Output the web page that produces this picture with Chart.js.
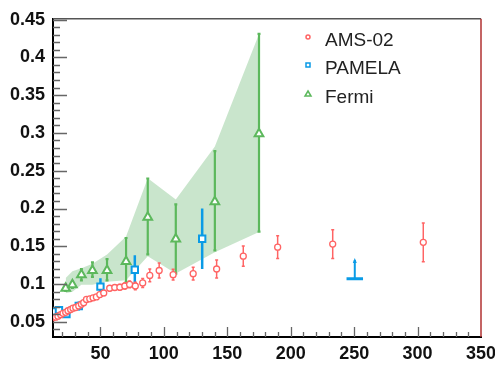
<!DOCTYPE html>
<html>
<head>
<meta charset="utf-8">
<script src="https://cdn.jsdelivr.net/npm/chart.js@4.4.1/dist/chart.umd.min.js"></script>
<style>
  html, body { margin: 0; padding: 0; background: #fff; }
</style>
</head>
<body>
<canvas id="fracchart" width="495" height="369"></canvas>
<script>
// AMS-02 positron fraction (energy in GeV, value, half error)
var amsEnergy   = [12.6, 14.7, 16.5, 18.7, 20.5, 22.6, 24.4, 26.5, 28.4, 30.5, 32.9, 35.0, 36.8, 39.0, 41.6, 44.2, 46.8, 49.5, 52.6, 57.3, 61.3, 65.3, 69.2, 73.0, 77.5, 83.3, 88.9, 96.3, 107.3, 123.1, 141.6, 162.6, 189.7, 233.1, 304.5];
var amsFraction = [0.0554, 0.0562, 0.0575, 0.0596, 0.0613, 0.0626, 0.0647, 0.0664, 0.0682, 0.0690, 0.0711, 0.0733, 0.0754, 0.0797, 0.0805, 0.0818, 0.0830, 0.0861, 0.0882, 0.0945, 0.0955, 0.0958, 0.0975, 0.0995, 0.0975, 0.1015, 0.1115, 0.1180, 0.1125, 0.1138, 0.1200, 0.1370, 0.1488, 0.1530, 0.1552];
var amsError    = [0.0010, 0.0010, 0.0011, 0.0012, 0.0012, 0.0013, 0.0014, 0.0015, 0.0016, 0.0017, 0.0018, 0.0019, 0.0020, 0.0021, 0.0022, 0.0023, 0.0025, 0.0027, 0.0029, 0.0032, 0.0034, 0.0036, 0.0040, 0.0045, 0.0050, 0.0060, 0.0085, 0.0098, 0.0072, 0.0085, 0.0120, 0.0135, 0.0150, 0.0190, 0.0255];

// PAMELA
var pamelaEnergy   = [14.0, 17.3, 23.2, 32.9, 50.0, 77.1, 130.2];
var pamelaFraction = [0.0638, 0.0656, 0.0605, 0.0710, 0.0967, 0.1190, 0.1600];
var pamelaError    = [0.0030, 0.0030, 0.0030, 0.0060, 0.0110, 0.0190, 0.0400];
var pamelaLimitEnergy   = [244, 257];
var pamelaLimitFraction = [0.107, 0.132];

// Fermi
var fermiEnergy   = [22.6, 27.9, 35.0, 43.7, 55.2, 70.2, 87.3, 109.4, 140.2, 175.0];
var fermiFraction = [0.0946, 0.0990, 0.1125, 0.1180, 0.1180, 0.1300, 0.1885, 0.1595, 0.2090, 0.2990];
var fermiLow      = [0.0910, 0.0950, 0.1050, 0.1095, 0.1050, 0.1030, 0.1394, 0.1138, 0.1445, 0.1693];
var fermiHigh     = [0.0980, 0.1030, 0.1200, 0.1288, 0.1330, 0.1610, 0.2397, 0.2056, 0.2760, 0.4310];
var fermiBandLow  = [0.0880, 0.0900, 0.0990, 0.0990, 0.1030, 0.1050, 0.1370, 0.1140, 0.1420, 0.1690];
var fermiBandHigh = [0.1080, 0.1170, 0.1210, 0.1270, 0.1390, 0.1630, 0.2400, 0.2120, 0.2820, 0.4310];

var xTicks = [50, 100, 150, 200, 250, 300, 350];
var yTicks = [0.05, 0.1, 0.15, 0.2, 0.25, 0.3, 0.35, 0.4, 0.45];

var amsColor = "#ff6464";
var pamelaColor = "#0a9be6";
var fermiColor = "#5cb85c";

function points(xs, ys) {
  var out = [];
  for (var i = 0; i < xs.length; i++) out.push({ x: xs[i], y: ys[i] });
  return out;
}

// error bars, drawn just before the markers of each dataset
var errorBars = {
  id: "errorBars",
  beforeDatasetDraw: function (chart, args) {
    var ds = chart.data.datasets[args.index];
    if (!ds.errLow) return;
    var ctx = chart.ctx, xs = chart.scales.x, ys = chart.scales.y, area = chart.chartArea;
    ctx.save();
    ctx.beginPath();
    ctx.rect(area.left, area.top, area.right - area.left, area.bottom - area.top);
    ctx.clip();
    ctx.strokeStyle = ds.borderColor;
    ctx.lineWidth = ds.errWidth;
    for (var i = 0; i < ds.data.length; i++) {
      var px = xs.getPixelForValue(ds.data[i].x);
      var lo = ys.getPixelForValue(ds.errLow[i]);
      var hi = ys.getPixelForValue(ds.errHigh[i]);
      ctx.beginPath();
      ctx.moveTo(px, lo); ctx.lineTo(px, hi);
      if (ds.capWidth) {
        ctx.moveTo(px - ds.capWidth, lo); ctx.lineTo(px + ds.capWidth, lo);
        ctx.moveTo(px - ds.capWidth, hi); ctx.lineTo(px + ds.capWidth, hi);
      }
      ctx.stroke();
    }
    if (ds.limitX) {
      var x0 = xs.getPixelForValue(ds.limitX[0]);
      var x1 = xs.getPixelForValue(ds.limitX[1]);
      var xm = xs.getPixelForValue((ds.limitX[0] + ds.limitX[1]) / 2);
      var yb = ys.getPixelForValue(ds.limitY[0]);
      var yt = ys.getPixelForValue(ds.limitY[1]);
      ctx.lineWidth = 3;
      ctx.beginPath(); ctx.moveTo(x0, yb); ctx.lineTo(x1, yb); ctx.stroke();
      ctx.lineWidth = 2;
      ctx.beginPath(); ctx.moveTo(xm, yb); ctx.lineTo(xm, yt); ctx.stroke();
      ctx.fillStyle = ds.borderColor;
      ctx.beginPath(); ctx.moveTo(xm, yt - 2); ctx.lineTo(xm - 2, yt + 3); ctx.lineTo(xm + 2, yt + 3); ctx.fill();
    }
    ctx.restore();
  }
};

// inner tick marks, frame and legend
var frameAndLegend = {
  id: "frameAndLegend",
  afterDraw: function (chart) {
    var ctx = chart.ctx, xs = chart.scales.x, ys = chart.scales.y, a = chart.chartArea;
    ctx.save();
    ctx.strokeStyle = "#666";
    ctx.lineWidth = 1.3;
    ctx.beginPath();
    for (var k = 4; k <= 45; k++) {
      var py = Math.round(ys.getPixelForValue(k / 100)) + 0.5;
      var len = (k % 5 === 0) ? 14 : 7;
      ctx.moveTo(a.left, py); ctx.lineTo(a.left + len, py);
    }
    for (var j = 2; j <= 34; j++) {
      var px = Math.round(xs.getPixelForValue(j * 10)) + 0.5;
      var l2 = (j % 5 === 0) ? 10 : 5;
      ctx.moveTo(px, a.bottom); ctx.lineTo(px, a.bottom - l2);
    }
    ctx.stroke();

    // top and right frame
    ctx.strokeStyle = "#555";
    ctx.lineWidth = 1.5;
    ctx.beginPath(); ctx.moveTo(a.left, a.top); ctx.lineTo(a.right, a.top); ctx.stroke();
    ctx.strokeStyle = "#b03030";
    ctx.beginPath(); ctx.moveTo(a.right, a.top); ctx.lineTo(a.right, a.bottom); ctx.stroke();

    // legend
    var rows = [
      { ds: 2, y: 37 },
      { ds: 3, y: 65 },
      { ds: 4, y: 94 }
    ];
    var mx = a.right - 173, tx = a.right - 156;
    ctx.font = '19px "Liberation Sans", Arial, sans-serif';
    ctx.textBaseline = "alphabetic";
    ctx.textAlign = "left";
    rows.forEach(function (r) {
      var ds = chart.data.datasets[r.ds];
      ctx.strokeStyle = ds.borderColor;
      ctx.fillStyle = "#fff";
      ctx.lineWidth = 1.5;
      ctx.beginPath();
      if (ds.pointStyle === "circle") {
        ctx.arc(mx, r.y, 2, 0, Math.PI * 2);
      } else if (ds.pointStyle === "rect") {
        ctx.rect(mx - 2, r.y - 2, 4, 4);
      } else {
        ctx.moveTo(mx, r.y - 3); ctx.lineTo(mx + 3, r.y + 2); ctx.lineTo(mx - 3, r.y + 2); ctx.closePath();
      }
      ctx.fill(); ctx.stroke();
      ctx.fillStyle = "#222";
      ctx.fillText(ds.label, tx, r.y + 8.5);
    });
    ctx.restore();
  }
};

var ctx = document.getElementById("fracchart").getContext("2d");
var FracChart = new Chart(ctx, {
  type: "scatter",
  data: {
    datasets: [
      {
        type: "line",
        label: "band low",
        data: points(fermiEnergy, fermiBandLow),
        borderColor: "rgba(0,0,0,0)",
        pointRadius: 0,
        fill: false,
        tension: 0,
        order: 10
      },
      {
        type: "line",
        label: "band high",
        data: points(fermiEnergy, fermiBandHigh),
        borderColor: "rgba(0,0,0,0)",
        backgroundColor: "rgba(90,175,100,0.33)",
        pointRadius: 0,
        fill: "-1",
        tension: 0,
        order: 10
      },
      {
        label: "AMS-02",
        data: points(amsEnergy, amsFraction),
        errLow: amsFraction.map(function (v, i) { return v - amsError[i]; }),
        errHigh: amsFraction.map(function (v, i) { return v + amsError[i]; }),
        errWidth: 1.5,
        capWidth: 1.5,
        pointStyle: "circle",
        pointRadius: 3,
        borderWidth: 1.3,
        borderColor: amsColor,
        backgroundColor: "#fff",
        order: 1
      },
      {
        label: "PAMELA",
        data: points(pamelaEnergy, pamelaFraction),
        errLow: pamelaFraction.map(function (v, i) { return v - pamelaError[i]; }),
        errHigh: pamelaFraction.map(function (v, i) { return v + pamelaError[i]; }),
        errWidth: 2.5,
        capWidth: 0,
        limitX: pamelaLimitEnergy,
        limitY: pamelaLimitFraction,
        pointStyle: "rect",
        pointRadius: 4.5,
        borderWidth: 2,
        borderColor: pamelaColor,
        backgroundColor: "#fff",
        order: 2
      },
      {
        label: "Fermi",
        data: points(fermiEnergy, fermiFraction),
        errLow: fermiLow,
        errHigh: fermiHigh,
        errWidth: 2.2,
        capWidth: 1.5,
        pointStyle: "triangle",
        pointRadius: 5,
        borderWidth: 2,
        borderColor: fermiColor,
        backgroundColor: "#fff",
        order: 3
      }
    ]
  },
  options: {
    responsive: false,
    animation: false,
    layout: { padding: { top: 8, right: 14, left: 0, bottom: 0 } },
    plugins: { legend: { display: false }, tooltip: { enabled: false } },
    scales: {
      x: {
        type: "linear",
        min: 12.6,
        max: 350,
        grid: { display: false, drawTicks: false },
        border: { display: true, color: "#000", width: 2 },
        afterBuildTicks: function (scale) {
          scale.ticks = xTicks.map(function (v) { return { value: v }; });
        },
        afterFit: function (scale) {
          scale.height = 32;
          scale.paddingLeft = 0;
          scale.paddingRight = 0;
        },
        ticks: {
          autoSkip: false,
          maxRotation: 0,
          padding: 6,
          color: "#111",
          font: { family: '"Liberation Sans", Arial, sans-serif', size: 18, weight: "bold" },
          callback: function (v) { return String(v); }
        }
      },
      y: {
        type: "linear",
        min: 0.03,
        max: 0.451,
        grid: { display: false, drawTicks: false },
        border: { display: true, color: "#000", width: 2 },
        afterBuildTicks: function (scale) {
          scale.ticks = yTicks.map(function (v) { return { value: v }; });
        },
        afterFit: function (scale) {
          scale.width = 53;
        },
        ticks: {
          padding: 8,
          color: "#111",
          font: { family: '"Liberation Sans", Arial, sans-serif', size: 18, weight: "bold" },
          callback: function (v) { return String(+v.toFixed(2)); }
        }
      }
    }
  },
  plugins: [errorBars, frameAndLegend]
});
</script>
</body>
</html>
